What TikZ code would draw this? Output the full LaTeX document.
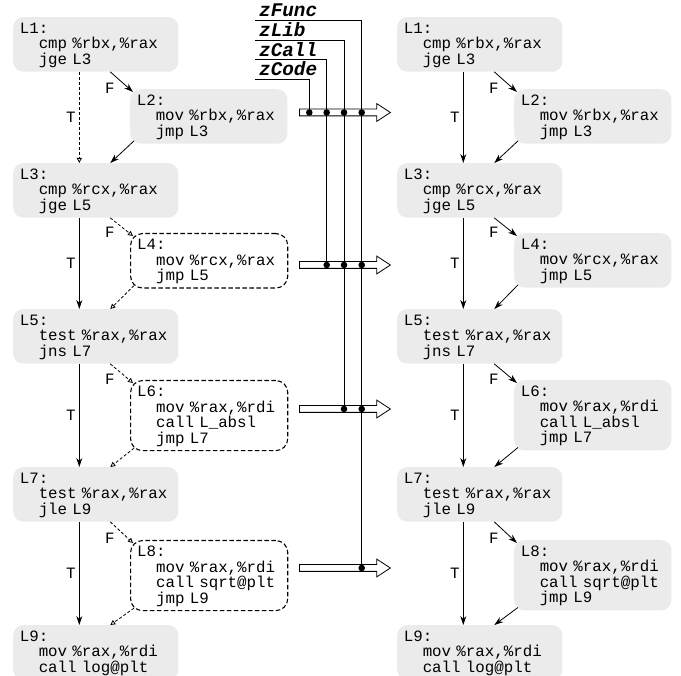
\documentclass[tikz,border=0pt]{standalone}
\usepackage{fontspec}
\setmonofont{Liberation Mono}
\usetikzlibrary{arrows.meta,shapes.arrows,positioning}
\definecolor{blockgray}{RGB}{235,235,235}
\newcommand\ind{\phantom{xx}}

\begin{document}
\begin{tikzpicture}[x=1pt,y=-1pt,>={Stealth[length=9pt,width=6pt]},
  font=\ttfamily\fontsize{15.8}{15.6}\selectfont,
  blk/.style={fill=blockgray,rounded corners=10pt,align=left,anchor=north west,
    inner xsep=6.6pt,inner ysep=4pt,text height=12pt},
  mainblk/.style={blk,text width=152pt},
  sideblk/.style={blk,text width=144pt},
  cutblk/.style={sideblk,fill=white,draw,line width=1.1pt,
    dash pattern=on 4.5pt off 2.5pt,rounded corners=12pt},
  edge/.style={->,line width=0.8pt},
  dedge/.style={line width=0.8pt,dash pattern=on 3pt off 2pt,
    -{Triangle[open,length=5pt,width=5pt]}},
  fat/.style={shape=single arrow,draw,fill=white,line width=0.8pt,anchor=tail,
    minimum height=91pt,inner sep=3pt,single arrow head extend=5.5pt,
    single arrow tip angle=66},
  zlab/.style={font=\ttfamily\bfseries\itshape\fontsize{19.3}{19}\selectfont,
    anchor=base west,inner sep=0pt},
  wire/.style={line width=0.8pt}]
  \useasboundingbox (0,0) rectangle (681,676);
  % left: before
  \node[mainblk] (L1) at (13,17) {L1:\\\ind cmp \%rbx,\%rax\\\ind jge L3};
  \node[sideblk] (L2) at (130,89) {L2:\\\ind mov \%rbx,\%rax\\\ind jmp L3};
  \node[mainblk] (L3) at (13,163) {L3:\\\ind cmp \%rcx,\%rax\\\ind jge L5};
  \node[cutblk] (L4) at (130,233) {L4:\\\ind mov \%rcx,\%rax\\\ind jmp L5};
  \node[mainblk] (L5) at (13,309) {L5:\\\ind test \%rax,\%rax\\\ind jns L7};
  \node[cutblk] (L6) at (130,380) {L6:\\\ind mov \%rax,\%rdi\\\ind call L\_absl\\\ind jmp L7};
  \node[mainblk] (L7) at (13,467) {L7:\\\ind test \%rax,\%rax\\\ind jle L9};
  \node[cutblk] (L8) at (130,540) {L8:\\\ind mov \%rax,\%rdi\\\ind call sqrt@plt\\\ind jmp L9};
  \node[mainblk] (L9) at (13,625) {L9:\\\ind mov \%rax,\%rdi\\\ind call log@plt};
  \draw[dedge] ([xshift=-16.5]L1.south) -- node[left]{T} ([xshift=-16.5]L3.north);
  \draw[edge] ([xshift=14.5]L1.south) -- node[pos=0.8,left=10pt]{F} ([shift={(3,3)}]L2.north west);
  \draw[edge] ([shift={(4,-3)}]L2.south west) -- ([xshift=14.5]L3.north);
  \draw[edge] ([xshift=-16.5]L3.south) -- node[left]{T} ([xshift=-16.5]L5.north);
  \draw[dedge] ([xshift=14.5]L3.south) -- node[pos=0.8,left=10pt]{F} ([shift={(3,3)}]L4.north west);
  \draw[dedge] ([shift={(4,-3)}]L4.south west) -- ([xshift=14.5]L5.north);
  \draw[edge] ([xshift=-16.5]L5.south) -- node[left]{T} ([xshift=-16.5]L7.north);
  \draw[dedge] ([xshift=14.5]L5.south) -- node[pos=0.8,left=10pt]{F} ([shift={(3,3)}]L6.north west);
  \draw[dedge] ([shift={(4,-3)}]L6.south west) -- ([xshift=14.5]L7.north);
  \draw[edge] ([xshift=-16.5]L7.south) -- node[left]{T} ([xshift=-16.5]L9.north);
  \draw[dedge] ([xshift=14.5]L7.south) -- node[pos=0.8,left=10pt]{F} ([shift={(3,3)}]L8.north west);
  \draw[dedge] ([shift={(4,-3)}]L8.south west) -- ([xshift=14.5]L9.north);
  % right: after
  \node[mainblk] (R1) at (397,17) {L1:\\\ind cmp \%rbx,\%rax\\\ind jge L3};
  \node[sideblk] (R2) at (514,89) {L2:\\\ind mov \%rbx,\%rax\\\ind jmp L3};
  \node[mainblk] (R3) at (397,163) {L3:\\\ind cmp \%rcx,\%rax\\\ind jge L5};
  \node[sideblk] (R4) at (514,233) {L4:\\\ind mov \%rcx,\%rax\\\ind jmp L5};
  \node[mainblk] (R5) at (397,309) {L5:\\\ind test \%rax,\%rax\\\ind jns L7};
  \node[sideblk] (R6) at (514,380) {L6:\\\ind mov \%rax,\%rdi\\\ind call L\_absl\\\ind jmp L7};
  \node[mainblk] (R7) at (397,467) {L7:\\\ind test \%rax,\%rax\\\ind jle L9};
  \node[sideblk] (R8) at (514,540) {L8:\\\ind mov \%rax,\%rdi\\\ind call sqrt@plt\\\ind jmp L9};
  \node[mainblk] (R9) at (397,625) {L9:\\\ind mov \%rax,\%rdi\\\ind call log@plt};
  \draw[edge] ([xshift=-16.5]R1.south) -- node[left]{T} ([xshift=-16.5]R3.north);
  \draw[edge] ([xshift=14.5]R1.south) -- node[pos=0.8,left=10pt]{F} ([shift={(3,3)}]R2.north west);
  \draw[edge] ([shift={(4,-3)}]R2.south west) -- ([xshift=14.5]R3.north);
  \draw[edge] ([xshift=-16.5]R3.south) -- node[left]{T} ([xshift=-16.5]R5.north);
  \draw[edge] ([xshift=14.5]R3.south) -- node[pos=0.8,left=10pt]{F} ([shift={(3,3)}]R4.north west);
  \draw[edge] ([shift={(4,-3)}]R4.south west) -- ([xshift=14.5]R5.north);
  \draw[edge] ([xshift=-16.5]R5.south) -- node[left]{T} ([xshift=-16.5]R7.north);
  \draw[edge] ([xshift=14.5]R5.south) -- node[pos=0.8,left=10pt]{F} ([shift={(3,3)}]R6.north west);
  \draw[edge] ([shift={(4,-3)}]R6.south west) -- ([xshift=14.5]R7.north);
  \draw[edge] ([xshift=-16.5]R7.south) -- node[left]{T} ([xshift=-16.5]R9.north);
  \draw[edge] ([xshift=14.5]R7.south) -- node[pos=0.8,left=10pt]{F} ([shift={(3,3)}]R8.north west);
  \draw[edge] ([shift={(4,-3)}]R8.south west) -- ([xshift=14.5]R9.north);
  % fat arrows
  \node[fat] (a1) at (299,112.5) {};
  \node[fat] (a2) at (299,265) {};
  \node[fat] (a3) at (299,409) {};
  \node[fat] (a4) at (299,568) {};
  % flags and wires
  \node[zlab] (zFunc) at (259,17) {zFunc};
  \node[zlab] (zLib) at (259,37) {zLib};
  \node[zlab] (zCall) at (259,56.5) {zCall};
  \node[zlab] (zCode) at (259,76) {zCode};
  \coordinate (xFunc) at (361.7,0);
  \coordinate (xLib) at (344,0);
  \coordinate (xCall) at (326.7,0);
  \coordinate (xCode) at (309.3,0);
  \draw[wire] ([shift={(-4,3)}]zFunc.base west) -| (xFunc |- a4);
  \draw[wire] ([shift={(-4,3)}]zLib.base west) -| (xLib |- a3);
  \draw[wire] ([shift={(-4,3)}]zCall.base west) -| (xCall |- a2);
  \draw[wire] ([shift={(-4,3)}]zCode.base west) -| (xCode |- a1);
  \fill (xCode |- a1) circle (3.3) (xCall |- a1) circle (3.3)
        (xLib |- a1) circle (3.3) (xFunc |- a1) circle (3.3);
  \fill (xCall |- a2) circle (3.3) (xLib |- a2) circle (3.3) (xFunc |- a2) circle (3.3);
  \fill (xLib |- a3) circle (3.3) (xFunc |- a3) circle (3.3);
  \fill (xFunc |- a4) circle (3.3);
\end{tikzpicture}
\end{document}
